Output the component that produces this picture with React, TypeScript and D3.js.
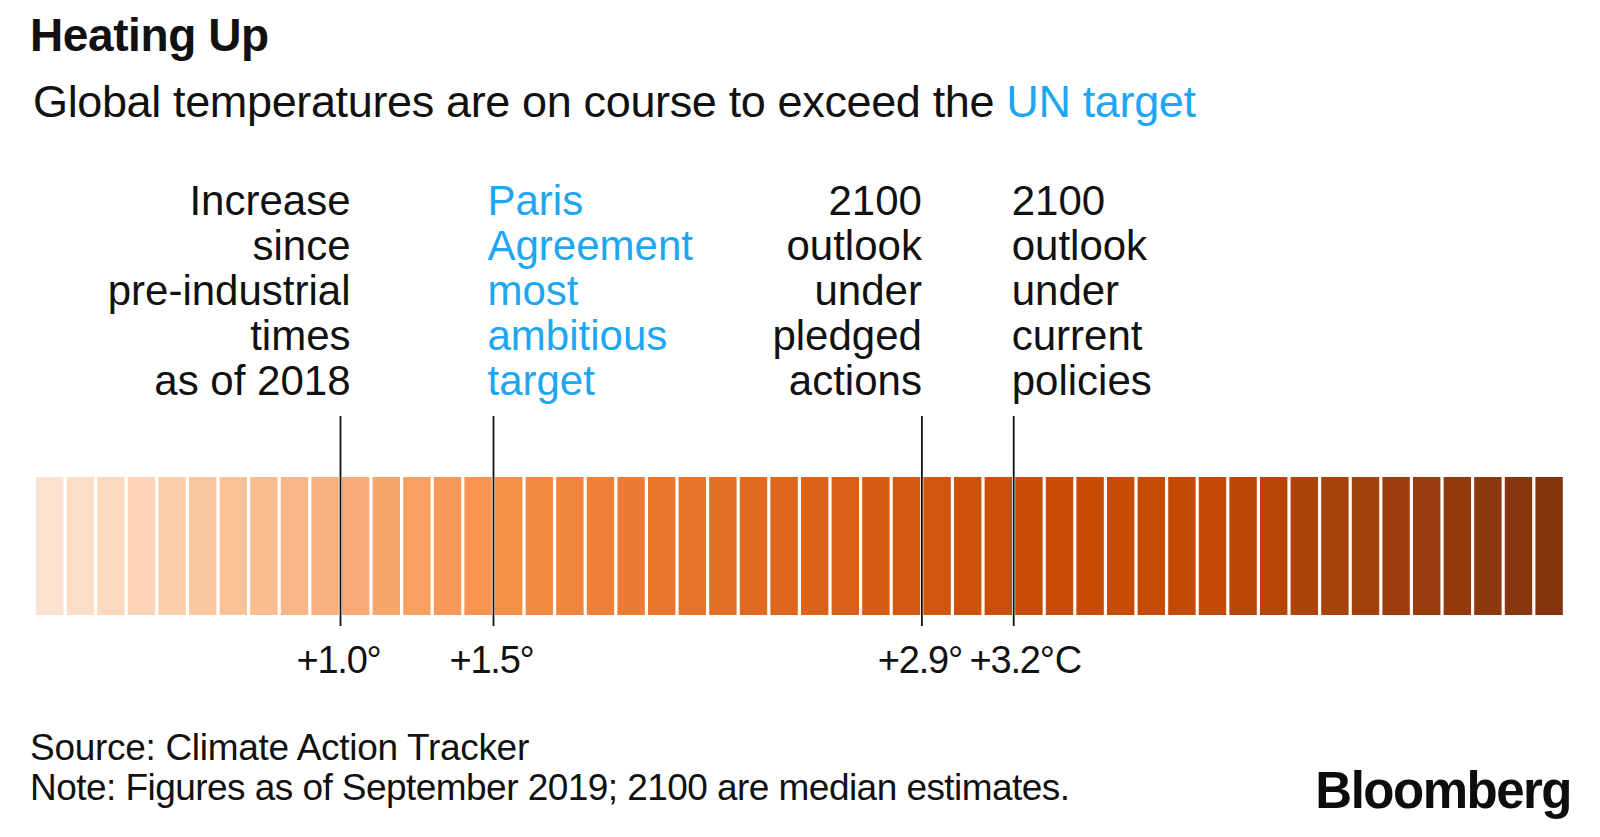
import React, { useEffect, useRef } from "react";
import * as d3 from "d3";

// ---- data ----
const title = "Heating Up";
const subtitleLead = "Global temperatures are on course to exceed the ";
const subtitleHighlight = "UN target";
const sourceText = "Source: Climate Action Tracker";
const noteText = "Note: Figures as of September 2019; 2100 are median estimates.";

// temperature scale (°C above pre-industrial) shown as 0.1° cells
const scaleDomain = [0, 5];
const cellStep = 0.1;

// colour anchors along the scale
const colorStops = [0, 0.5, 1.0, 1.5, 2.0, 2.5, 3.0, 3.2, 3.8, 4.3, 5.0];
const colorValues = [
  "#fde5d3", "#fbcba6", "#f8ad7c", "#f8914a", "#eb7830", "#dc641b",
  "#cf540b", "#c94c02", "#c44a04", "#a5410c", "#80330f",
];

// markers
const markerValues = [1.0, 1.5, 2.9, 3.2];
const markerTicks = ["+1.0°", "+1.5°", "+2.9°", "+3.2°"];
const markerUnits = ["", "", "", "C"];
const markerLabels = [
  ["Increase", "since", "pre-industrial", "times", "as of 2018"],
  ["Paris", "Agreement", "most", "ambitious", "target"],
  ["2100", "outlook", "under", "pledged", "actions"],
  ["2100", "outlook", "under", "current", "policies"],
];
const markerLabelSide = ["left", "right", "left", "right"];
const markerLabelOffset = [10, -6, 0, -2];
const markerLabelColors = ["#111", "#1ea6f2", "#111", "#111"];

const FONT = "'Liberation Sans', Arial, Helvetica, sans-serif";
const BLUE = "#1ea6f2";

export default function App() {
  const ref = useRef<SVGSVGElement | null>(null);

  useEffect(() => {
    const svg = d3.select(ref.current);
    svg.selectAll("*").remove();

    const x = d3.scaleLinear().domain(scaleDomain).range([36, 1566]);
    const color = d3
      .scaleLinear<string>()
      .domain(colorStops)
      .range(colorValues)
      .interpolate(d3.interpolateRgb);

    const barTop = 477;
    const barBottom = 615;
    const gap = 3.2;

    // title & subtitle
    svg
      .append("text")
      .attr("x", 30)
      .attr("y", 51)
      .attr("font-family", FONT)
      .attr("font-weight", "bold")
      .attr("font-size", 46)
      .attr("letter-spacing", -0.4)
      .attr("fill", "#111")
      .text(title);

    const sub = svg
      .append("text")
      .attr("x", 33)
      .attr("y", 117)
      .attr("font-family", FONT)
      .attr("font-size", 45)
      .attr("letter-spacing", -0.36)
      .attr("fill", "#111");
    sub.append("tspan").text(subtitleLead);
    sub.append("tspan").attr("fill", BLUE).text(subtitleHighlight);

    // cells
    const nCells = Math.round((scaleDomain[1] - scaleDomain[0]) / cellStep);
    const cells = d3.range(nCells).map((i) => scaleDomain[0] + i * cellStep);
    svg
      .append("g")
      .selectAll("rect")
      .data(cells)
      .join("rect")
      .attr("x", (d) => x(d))
      .attr("y", barTop)
      .attr("width", (d) => x(d + cellStep) - x(d) - gap)
      .attr("height", barBottom - barTop)
      .attr("fill", (d) => color(d + cellStep / 2));

    // markers
    const lineTop = 416;
    const lineBottom = 626;
    markerValues.forEach((v, i) => {
      const mx = x(v) - 1.5;
      svg
        .append("line")
        .attr("x1", mx)
        .attr("x2", mx)
        .attr("y1", lineTop)
        .attr("y2", lineBottom)
        .attr("stroke", "#111")
        .attr("stroke-width", 1.8);

      // tick label: number centred on the line, unit appended after
      const t = svg
        .append("text")
        .attr("y", 673)
        .attr("font-family", FONT)
        .attr("font-size", 38)
        .attr("letter-spacing", -1.2)
        .attr("fill", "#111")
        .text(markerTicks[i]);
      const w = (t.node() as SVGTextElement).getComputedTextLength();
      t.attr("x", mx - w / 2 - 2);
      if (markerUnits[i]) t.append("tspan").attr("dx", 1).text(markerUnits[i]);

      // descriptive label
      const side = markerLabelSide[i];
      const lx = mx + markerLabelOffset[i];
      const lbl = svg
        .append("text")
        .attr("font-family", FONT)
        .attr("font-size", 42)
        .attr("fill", markerLabelColors[i])
        .attr("text-anchor", side === "left" ? "end" : "start");
      markerLabels[i].forEach((line, k) => {
        lbl
          .append("tspan")
          .attr("x", lx)
          .attr("y", 215 + k * 45)
          .text(line);
      });
    });

    // footer
    svg
      .append("text")
      .attr("x", 30)
      .attr("y", 760)
      .attr("font-family", FONT)
      .attr("font-size", 37)
      .attr("letter-spacing", -0.3)
      .attr("fill", "#111")
      .text(sourceText);
    svg
      .append("text")
      .attr("x", 30)
      .attr("y", 800)
      .attr("font-family", FONT)
      .attr("font-size", 37)
      .attr("letter-spacing", -0.55)
      .attr("fill", "#111")
      .text(noteText);

    svg
      .append("text")
      .attr("x", 1571)
      .attr("y", 808)
      .attr("text-anchor", "end")
      .attr("font-family", FONT)
      .attr("font-weight", "bold")
      .attr("font-size", 51)
      .attr("letter-spacing", -1.5)
      .attr("fill", "#0d0d0d")
      .text("Bloomberg");
  }, []);

  return (
    <svg
      ref={ref}
      width={1600}
      height={837}
      style={{ position: "absolute", left: 0, top: 0, background: "#fff" }}
    />
  );
}
